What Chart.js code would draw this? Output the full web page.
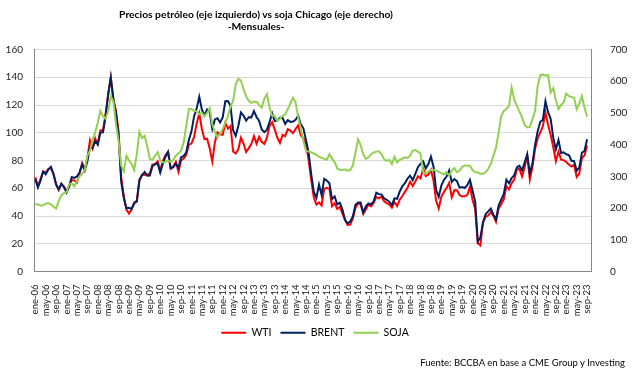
<!DOCTYPE html>
<html>
<head>
<meta charset="utf-8">
<script src="https://cdn.jsdelivr.net/npm/chart.js@4.4.0/dist/chart.umd.min.js"></script>
<style>
  html, body { margin: 0; padding: 0; background: #fff; }
  #wrap { position: relative; width: 640px; height: 373px; }
  #titulo { position: absolute; left: 0; top: 8px; width: 512px; text-align: center;
            font: bold 10.3px Lato, sans-serif; line-height: 12px; color: #000; }
  #fuente { position: absolute; right: 15px; top: 357px; font: 9.5px Lato, sans-serif; color: #000; }
</style>
</head>
<body>
<div id="wrap">
  <canvas id="grafico" width="640" height="373"></canvas>
  <div id="titulo">Precios petróleo (eje izquierdo) vs soja Chicago (eje derecho)<br>-Mensuales-</div>
  <div id="fuente">Fuente: BCCBA en base a CME Group y Investing</div>
</div>
<script>
// Meses y años del eje de categorías
const meses = ['ene', 'feb', 'mar', 'abr', 'may', 'jun', 'jul', 'ago', 'sep', 'oct', 'nov', 'dic'];
const anios = ['06', '07', '08', '09', '10', '11', '12', '13', '14', '15', '16', '17', '18', '19', '20', '21', '22', '23'];
const ultimoMes = 10; // oct-23

// WTI (u$s/barril, eje izquierdo)
const wti = [
    67.9, 61.4, 66.6, 71.9, 71.3, 73.9, 74.4, 70.3, 62.9, 58.7, 63.0, 61.1,
    58.1, 61.8, 65.9, 65.7, 64.0, 70.7, 78.2, 74.0, 81.7, 94.5, 88.7, 96.0,
    91.8, 101.8, 101.6, 113.5, 127.4, 140.0, 124.1, 115.5, 100.6, 67.8, 54.4, 44.6,
    41.7, 44.8, 49.7, 51.1, 66.3, 69.9, 69.5, 70.0, 70.6, 77.0, 77.3, 79.4,
    72.9, 79.7, 83.8, 86.2, 74.0, 75.6, 79.0, 71.9, 80.0, 81.4, 84.1, 91.4,
    92.2, 97.0, 106.7, 113.9, 102.7, 95.4, 95.7, 88.8, 79.2, 93.2, 100.4, 98.8,
    98.5, 107.1, 103.0, 104.9, 86.5, 85.0, 88.1, 96.5, 92.2, 86.2, 88.9, 91.8,
    97.5, 92.1, 97.2, 93.5, 92.0, 96.6, 105.0, 107.7, 102.3, 96.4, 92.7, 98.4,
    97.5, 102.6, 101.6, 99.7, 102.7, 105.4, 98.2, 96.0, 91.2, 80.5, 66.2, 53.3,
    48.2, 49.8, 47.6, 59.6, 60.3, 59.5, 47.1, 49.2, 45.1, 46.6, 41.7, 37.0,
    33.6, 33.8, 38.3, 45.9, 49.1, 48.3, 41.6, 44.7, 48.2, 46.9, 49.4, 53.7,
    52.8, 54.0, 50.6, 49.3, 48.3, 46.0, 50.2, 47.2, 51.7, 54.4, 57.4, 60.4,
    64.7, 61.6, 64.9, 68.6, 67.0, 74.2, 68.8, 69.8, 73.3, 65.3, 50.9, 45.4,
    53.8, 57.2, 60.1, 63.9, 53.5, 58.5, 58.6, 55.1, 54.1, 54.2, 55.2, 61.1,
    51.6, 44.8, 20.5, 18.8, 35.5, 39.3, 40.3, 42.6, 40.2, 35.8, 45.3, 48.5,
    52.2, 61.5, 59.2, 63.6, 66.3, 73.5, 74.0, 68.5, 75.0, 83.6, 66.2, 75.2,
    88.2, 95.7, 100.3, 104.7, 114.7, 105.8, 98.6, 89.6, 79.5, 86.5, 80.6, 80.3,
    78.9, 77.1, 75.7, 76.8, 68.1, 70.6, 81.8, 83.6, 90.8, null
];

// BRENT (u$s/barril, eje izquierdo)
const brent = [
    66.6, 60.6, 65.5, 72.1, 70.0, 73.5, 75.4, 70.2, 62.5, 59.4, 63.3, 60.9,
    56.9, 61.2, 68.1, 67.4, 68.5, 71.4, 77.1, 72.7, 79.2, 90.0, 88.8, 93.9,
    91.5, 100.1, 100.3, 111.4, 127.8, 139.8, 124.1, 114.0, 98.2, 64.8, 53.0, 45.6,
    45.9, 45.1, 49.2, 50.3, 65.5, 69.3, 71.7, 69.0, 69.1, 75.9, 77.3, 77.9,
    71.2, 77.6, 82.7, 86.2, 74.6, 75.0, 77.9, 74.6, 82.3, 83.2, 85.9, 94.8,
    101.0, 111.8, 117.4, 125.9, 116.7, 112.5, 116.7, 114.9, 102.8, 109.6, 110.5, 107.4,
    111.0, 122.7, 122.9, 119.5, 101.9, 97.8, 104.9, 114.6, 112.4, 108.7, 111.2, 111.1,
    115.6, 111.4, 108.5, 102.4, 100.4, 102.2, 107.7, 114.0, 108.4, 108.8, 110.8, 110.8,
    106.4, 109.1, 107.8, 108.1, 109.4, 112.4, 106.0, 103.2, 94.7, 85.9, 70.2, 57.3,
    53.0, 62.6, 55.1, 66.8, 65.6, 63.6, 52.2, 54.2, 48.4, 49.6, 44.6, 37.3,
    34.7, 36.0, 39.6, 48.1, 49.7, 49.7, 42.5, 47.0, 49.1, 48.3, 50.5, 56.8,
    55.7, 55.6, 52.8, 51.7, 50.3, 47.9, 52.7, 52.4, 57.5, 61.4, 63.6, 66.9,
    69.1, 65.8, 70.3, 75.2, 77.6, 79.4, 74.3, 77.4, 82.7, 75.5, 58.7, 53.8,
    61.9, 66.0, 68.4, 72.8, 64.5, 66.6, 65.2, 60.4, 60.8, 60.2, 62.4, 66.0,
    58.2, 50.5, 21.5, 24.5, 35.3, 41.2, 43.3, 45.3, 41.0, 37.5, 47.6, 51.8,
    55.9, 66.1, 63.5, 67.3, 69.3, 75.1, 76.3, 73.0, 78.5, 84.4, 70.6, 77.8,
    91.2, 101.0, 107.9, 109.3, 122.8, 114.8, 110.0, 96.5, 88.0, 94.8, 85.4, 85.9,
    84.5, 83.9, 79.8, 79.5, 72.7, 74.9, 85.6, 86.9, 95.3, null
];

// SOJA Chicago (u$s/tonelada, eje derecho)
const soja = [
    213, 211, 208, 209, 214, 216, 212, 204, 199, 222, 240, 247,
    250, 276, 278, 268, 285, 300, 308, 320, 365, 381, 415, 438,
    470, 506, 490, 482, 505, 553, 537, 464, 412, 334, 316, 365,
    350, 339, 320, 370, 441, 421, 428, 395, 355, 352, 365, 376,
    350, 344, 345, 350, 345, 352, 365, 372, 381, 407, 460, 512,
    512, 507, 505, 496, 500, 490, 500, 515, 464, 440, 423, 435,
    449, 470, 490, 520, 538, 590, 608, 602, 575, 552, 538, 532,
    536, 535, 525, 517, 545, 559, 517, 491, 490, 475, 482, 491,
    495, 512, 530, 548, 533, 486, 450, 412, 381, 378, 376, 372,
    368, 362, 358, 356, 352, 370, 356, 345, 325, 321, 320, 322,
    318, 320, 334, 375, 417, 398, 370, 355, 360, 370, 375, 378,
    379, 370, 354, 349, 352, 339, 362, 344, 352, 356, 360, 358,
    365, 381, 383, 378, 372, 313, 308, 315, 320, 320, 318, 314,
    310, 306, 313, 302, 318, 326, 313, 318, 330, 334, 334, 333,
    320, 313, 312, 308, 308, 313, 323, 339, 365, 391, 438, 490,
    506, 512, 522, 580, 543, 522, 505, 486, 462, 454, 456, 480,
    506, 585, 619, 621, 618, 619, 564, 578, 540, 512, 525, 533,
    561, 553, 550, 548, 512, 530, 553, 517, 488, null
];

// Etiquetas "ene-06" ... "oct-23"
const etiquetas = [];
anios.forEach((a, k) => {
    meses.forEach((m, j) => {
        if (k < anios.length - 1 || j < ultimoMes) etiquetas.push(m + '-' + a);
    });
});

Chart.defaults.font.family = 'Lato, sans-serif';
Chart.defaults.font.size = 10;
Chart.defaults.color = '#222';

const ctx = document.getElementById('grafico').getContext('2d');
new Chart(ctx, {
    type: 'line',
    data: {
        labels: etiquetas,
        datasets: [
            { label: 'WTI', data: wti, borderColor: '#ff0000', backgroundColor: '#ff0000',
              borderWidth: 2, pointBorderWidth: 2, yAxisID: 'y', order: 2 },
            { label: 'BRENT', data: brent, borderColor: '#002060', backgroundColor: '#002060',
              borderWidth: 2, pointBorderWidth: 2, yAxisID: 'y', order: 1 },
            { label: 'SOJA', data: soja, borderColor: '#92d050', backgroundColor: '#92d050',
              borderWidth: 2, pointBorderWidth: 2, yAxisID: 'y2', order: 0 }
        ]
    },
    options: {
        responsive: false,
        animation: false,
        layout: { padding: { top: 49.5, right: 10, bottom: 25, left: 0 } },
        elements: { point: { radius: 0 }, line: { tension: 0 } },
        plugins: {
            legend: {
                position: 'bottom',
                reverse: true,
                labels: {
                    usePointStyle: true,
                    pointStyle: 'line',
                    pointStyleWidth: 25,
                    padding: 9,
                    color: '#000',
                    font: { size: 10.5 }
                }
            },
            tooltip: { enabled: false }
        },
        scales: {
            x: {
                offset: true,
                grid: { display: false },
                border: { color: '#868686' },
                ticks: {
                    autoSkip: false,
                    maxRotation: 90,
                    minRotation: 90,
                    padding: 5,
                    font: { size: 9.5 },
                    color: '#222',
                    callback: function (v, i) { return i % 4 === 0 ? this.getLabelForValue(v) : ''; }
                },
                afterFit: s => { s.height = 47; }
            },
            y: {
                position: 'left',
                min: 0,
                max: 160,
                ticks: { stepSize: 20, padding: 11 },
                grid: { color: '#d9d9d9', drawTicks: false },
                border: { color: '#868686' },
                afterFit: s => { s.width = 34; }
            },
            y2: {
                position: 'right',
                min: 0,
                max: 700,
                ticks: { stepSize: 100, padding: 11 },
                grid: { display: false },
                border: { color: '#868686' },
                afterFit: s => { s.width = 39; }
            }
        }
    }
});
</script>
</body>
</html>
